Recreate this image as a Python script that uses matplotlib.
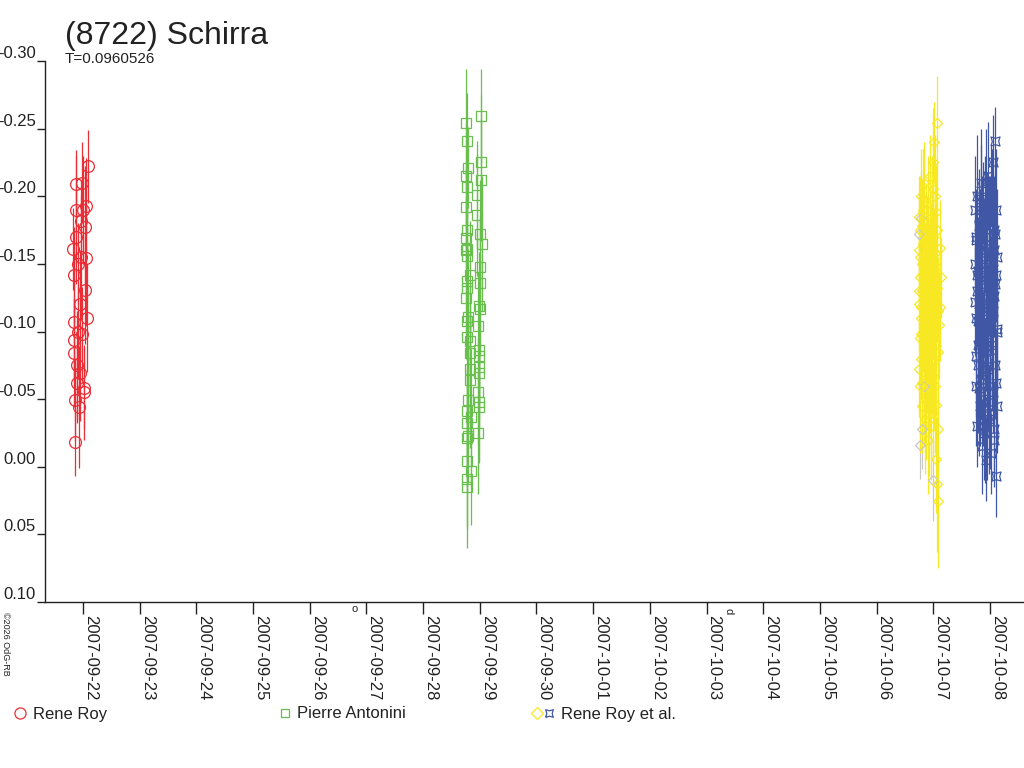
import matplotlib
matplotlib.use("Agg")
import matplotlib.pyplot as plt
import numpy as np

plt.rcParams['font.family'] = ['Liberation Sans', 'DejaVu Sans']

title = "(8722) Schirra"
subtitle = "T=0.0960526"
date_labels = ["2007-09-22", "2007-09-23", "2007-09-24", "2007-09-25", "2007-09-26",
               "2007-09-27", "2007-09-28", "2007-09-29", "2007-09-30", "2007-10-01",
               "2007-10-02", "2007-10-03", "2007-10-04", "2007-10-05", "2007-10-06",
               "2007-10-07", "2007-10-08"]
y_ticks = [-0.30, -0.25, -0.20, -0.15, -0.10, -0.05, 0.00, 0.05, 0.10]
y_tick_labels = ["-0.30", "-0.25", "-0.20", "-0.15", "-0.10", "-0.05", "0.00", "0.05", "0.10"]

# time in days since 2007-09-22 00:00
red_t = [-0.17, -0.165, -0.16, -0.155, -0.15, -0.145, -0.14, -0.13, -0.125, -0.12,
         -0.11, -0.10, -0.09, -0.08, -0.07, -0.06, -0.05, -0.04, -0.03, -0.02,
         -0.01, 0.00, 0.01, 0.02, 0.03, 0.04, 0.05, 0.06, 0.07, 0.08]
red_y = [-0.161, -0.142, -0.084, -0.094, -0.107, -0.049, -0.018, -0.209, -0.190, -0.170,
         -0.062, -0.075, -0.100, -0.150, -0.044, -0.069, -0.120, -0.182, -0.155, -0.098,
         -0.210, -0.190, -0.055, -0.058, -0.177, -0.131, -0.154, -0.193, -0.110, -0.222]
red_err = [0.03, 0.035, 0.04, 0.03, 0.045, 0.03, 0.025, 0.025, 0.04, 0.035,
           0.03, 0.04, 0.035, 0.03, 0.045, 0.035, 0.04, 0.03, 0.045, 0.035,
           0.03, 0.04, 0.035, 0.03, 0.045, 0.04, 0.05, 0.035, 0.04, 0.027]

green_t = [7.020, 6.757, 6.770, 7.022, 6.790, 6.765, 7.022, 6.770, 6.955, 6.755,
           6.955, 6.777, 7.000, 6.755, 7.033, 6.777, 6.767, 7.000, 6.820, 6.777,
           7.000, 6.770, 6.755, 6.990, 7.000, 6.790, 6.767, 6.973, 6.777, 6.820,
           6.990, 6.820, 6.990, 6.990, 6.830, 6.990, 6.830, 6.973, 6.790, 6.990,
           6.990, 6.777, 6.850, 6.777, 6.973, 6.790, 6.777, 6.777, 6.838, 6.777,
           6.777, 6.760]
green_y = [-0.259, -0.254, -0.241, -0.225, -0.221, -0.215, -0.212, -0.207, -0.201, -0.192,
           -0.186, -0.175, -0.172, -0.169, -0.165, -0.161, -0.156, -0.148, -0.142, -0.137,
           -0.136, -0.132, -0.125, -0.119, -0.117, -0.111, -0.108, -0.104, -0.096, -0.093,
           -0.086, -0.084, -0.082, -0.074, -0.072, -0.069, -0.064, -0.055, -0.049, -0.048,
           -0.044, -0.041, -0.037, -0.032, -0.025, -0.023, -0.021, -0.004, 0.003, 0.009,
           0.015, -0.160]
green_err = [0.035, 0.04, 0.035, 0.05, 0.03, 0.04, 0.045, 0.035, 0.04, 0.03,
             0.045, 0.035, 0.04, 0.03, 0.05, 0.04, 0.045, 0.035, 0.04, 0.03,
             0.05, 0.035, 0.045, 0.04, 0.035, 0.05, 0.03, 0.04, 0.045, 0.035,
             0.04, 0.05, 0.035, 0.045, 0.04, 0.035, 0.05, 0.04, 0.035, 0.045,
             0.04, 0.035, 0.05, 0.04, 0.045, 0.035, 0.04, 0.05, 0.04, 0.035,
             0.045, 0.06]

grey_t = [14.77, 14.80, 14.78, 15.00, 14.75, 14.83]
grey_y = [-0.016, -0.028, -0.184, 0.010, -0.172, -0.060]
grey_err = [0.025, 0.03, 0.035, 0.03, 0.03, 0.035]

yellow_t = [14.741, 14.747, 14.752, 14.758, 14.762, 14.768, 14.773, 14.779, 14.784, 14.790,
            14.795, 14.801, 14.806, 14.812, 14.817, 14.823, 14.829, 14.834, 14.840, 14.845,
            14.851, 14.857, 14.862, 14.868, 14.873, 14.879, 14.885, 14.890, 14.896, 14.901,
            14.907, 14.913, 14.918, 14.924, 14.929, 14.935, 14.941, 14.946, 14.952, 14.957,
            14.963, 14.969, 14.974, 14.980, 14.986, 14.991, 14.997, 15.002, 15.008, 15.014,
            15.019, 15.025, 15.031, 15.036, 15.042, 15.048, 15.053, 15.059, 15.065, 15.070,
            15.076, 15.082, 15.090, 15.100,
            14.744, 14.755, 14.765, 14.776, 14.787, 14.798, 14.809, 14.820, 14.831, 14.843,
            14.854, 14.865, 14.876, 14.887, 14.899, 14.910, 14.921, 14.932, 14.944, 14.955,
            14.966, 14.977, 14.988, 15.000, 15.011, 15.022, 15.033, 15.045, 15.056, 15.067,
            15.079, 15.110, 15.125, 15.140]
yellow_y = [-0.185, -0.160, -0.120, -0.095, -0.140, -0.060, -0.175, -0.200, -0.110, -0.080,
            -0.150, -0.130, -0.045, -0.190, -0.100, -0.165, -0.070, -0.125, -0.210, -0.090,
            -0.035, -0.145, -0.115, -0.180, -0.055, -0.135, -0.075, -0.170, -0.105, -0.020,
            -0.195, -0.155, -0.085, -0.050, -0.125, -0.215, -0.100, -0.065, -0.160, -0.140,
            -0.030, -0.110, -0.185, -0.080, -0.225, -0.130, -0.040, -0.170, -0.095, -0.150,
            -0.240, -0.060, -0.120, -0.200, -0.006, -0.145, -0.090, 0.013, -0.175, -0.254,
            -0.115, -0.028, 0.025, -0.105,
            -0.130, -0.072, -0.155, -0.098, -0.118, -0.178, -0.062, -0.142, -0.088, -0.196,
            -0.108, -0.050, -0.166, -0.128, -0.082, -0.148, -0.112, -0.038, -0.172, -0.092,
            -0.138, -0.068, -0.205, -0.122, -0.078, -0.158, -0.102, -0.046, -0.188, -0.132,
            -0.085, -0.162, -0.118, -0.140]
yellow_err = [0.030, 0.040, 0.035, 0.045, 0.030, 0.050, 0.040, 0.035, 0.045, 0.030,
              0.040, 0.050, 0.035, 0.045, 0.030, 0.040, 0.055, 0.035, 0.030, 0.045,
              0.040, 0.035, 0.050, 0.030, 0.045, 0.040, 0.035, 0.030, 0.050, 0.040,
              0.035, 0.045, 0.030, 0.040, 0.055, 0.030, 0.045, 0.040, 0.035, 0.050,
              0.040, 0.030, 0.045, 0.035, 0.040, 0.050, 0.035, 0.030, 0.045, 0.040,
              0.030, 0.050, 0.035, 0.045, 0.040, 0.035, 0.030, 0.050, 0.045, 0.035,
              0.040, 0.030, 0.050, 0.040,
              0.040, 0.035, 0.045, 0.030, 0.040, 0.035, 0.050, 0.030, 0.045, 0.040,
              0.035, 0.045, 0.030, 0.040, 0.050, 0.035, 0.030, 0.045, 0.040, 0.035,
              0.045, 0.030, 0.040, 0.035, 0.050, 0.040, 0.030, 0.045, 0.035, 0.040,
              0.045, 0.035, 0.040, 0.030]

blue_t = [15.735, 15.741, 15.747, 15.753, 15.759, 15.766, 15.772, 15.778, 15.784, 15.791,
          15.797, 15.803, 15.809, 15.816, 15.822, 15.828, 15.834, 15.841, 15.847, 15.853,
          15.859, 15.866, 15.872, 15.878, 15.884, 15.891, 15.897, 15.903, 15.909, 15.916,
          15.922, 15.928, 15.934, 15.941, 15.947, 15.953, 15.959, 15.966, 15.972, 15.978,
          15.984, 15.991, 15.997, 16.003, 16.009, 16.016, 16.022, 16.028, 16.034, 16.041,
          16.047, 16.053, 16.059, 16.066, 16.072, 16.078, 16.084, 16.091, 16.097, 16.103,
          16.109, 16.116, 16.122, 16.130,
          15.738, 15.750, 15.762, 15.775, 15.787, 15.800, 15.812, 15.825, 15.837, 15.850,
          15.862, 15.875, 15.887, 15.900, 15.912, 15.925, 15.937, 15.950, 15.962, 15.975,
          15.987, 16.000, 16.012, 16.025, 16.037, 16.050, 16.062, 16.075, 16.087, 16.100,
          16.112, 16.125]
blue_y = [-0.150, -0.190, -0.110, -0.060, -0.170, -0.130, -0.030, -0.200, -0.090, -0.145,
          -0.075, -0.185, -0.120, -0.045, -0.160, -0.100, -0.210, -0.065, -0.135, -0.015,
          -0.175, -0.115, -0.050, -0.195, -0.085, -0.155, -0.025, -0.125, -0.180, -0.070,
          -0.140, -0.005, -0.205, -0.095, -0.165, -0.040, -0.120, -0.215, -0.080, -0.150,
          -0.035, -0.185, -0.105, -0.060, -0.170, -0.130, -0.010, -0.200, -0.090, -0.145,
          -0.225, -0.055, -0.115, -0.175, -0.020, -0.160, -0.241, -0.075, -0.135, 0.007,
          -0.190, -0.100, -0.045, -0.155,
          -0.122, -0.168, -0.082, -0.142, -0.108, -0.058, -0.178, -0.128, -0.092, -0.198,
          -0.138, -0.068, -0.112, -0.158, -0.038, -0.148, -0.098, -0.188, -0.072, -0.132,
          -0.162, -0.048, -0.118, -0.208, -0.086, -0.152, -0.028, -0.126, -0.172, -0.062,
          -0.142, -0.102]
blue_err = [0.035, 0.040, 0.030, 0.045, 0.035, 0.040, 0.030, 0.045, 0.035, 0.040,
            0.050, 0.035, 0.040, 0.030, 0.045, 0.035, 0.040, 0.030, 0.045, 0.035,
            0.040, 0.050, 0.035, 0.030, 0.045, 0.040, 0.035, 0.030, 0.050, 0.040,
            0.035, 0.030, 0.045, 0.040, 0.035, 0.050, 0.030, 0.040, 0.045, 0.035,
            0.040, 0.030, 0.050, 0.035, 0.045, 0.040, 0.030, 0.035, 0.045, 0.040,
            0.035, 0.030, 0.050, 0.040, 0.035, 0.045, 0.025, 0.040, 0.035, 0.030,
            0.045, 0.040, 0.035, 0.050,
            0.040, 0.035, 0.045, 0.030, 0.040, 0.050, 0.035, 0.030, 0.045, 0.040,
            0.035, 0.045, 0.030, 0.040, 0.050, 0.035, 0.040, 0.030, 0.045, 0.035,
            0.040, 0.050, 0.035, 0.030, 0.045, 0.040, 0.035, 0.030, 0.045, 0.040,
            0.035, 0.045]

series_names = ["Rene Roy", "Pierre Antonini", "Rene Roy et al."]

red = "#ea2e36"
green = "#69bf4e"
yellow = "#f7e823"
blue = "#3f57a5"
grey = "#c8c8c8"
ink = "#222222"

star = [(-1, -1), (0, -0.7), (1, -1), (0.7, 0), (1, 1), (0, 0.7), (-1, 1), (-0.7, 0), (-1, -1)]

fig = plt.figure(figsize=(10.24, 7.68), dpi=100)
ax = fig.add_axes([45 / 1024, 166 / 768, 979 / 1024, 541 / 768])

kw = dict(linestyle='none', capsize=0, elinewidth=0.9, mew=0.9, mfc='none')
ax.errorbar(red_t, red_y, yerr=red_err, marker='o', ms=8.5, color=red, **kw)
ax.errorbar(green_t, green_y, yerr=green_err, marker='s', ms=6.5, color=green, **kw)
ax.errorbar(grey_t, grey_y, yerr=grey_err, marker='D', ms=5.5, color=grey, **kw)
ax.errorbar(yellow_t, yellow_y, yerr=yellow_err, marker='D', ms=5.5, color=yellow, **kw)
ax.errorbar(blue_t, blue_y, yerr=blue_err, marker=star, ms=6.5, color=blue, **kw)

x_pos = np.arange(len(date_labels))
ax.set_xlim(-0.67, 16.6)
ax.set_ylim(0.10, -0.30)
ax.set_yticks(y_ticks)
ax.set_yticklabels(y_tick_labels, fontsize=12, color=ink)
ax.set_xticks(x_pos)
ax.set_xticklabels(date_labels, fontsize=12, color=ink, rotation=270)
for lab in ax.get_yticklabels():
    lab.set_verticalalignment('bottom')
for lab in ax.get_xticklabels():
    lab.set_horizontalalignment('left')
    lab.set_verticalalignment('top')
ax.tick_params(axis='y', direction='out', length=6, width=1, color=ink, pad=0.5)
ax.tick_params(axis='x', direction='out', length=8.6, width=1, color=ink, pad=0.5)
for s in ['top', 'right']:
    ax.spines[s].set_visible(False)
for s in ['left', 'bottom']:
    ax.spines[s].set_color(ink)
    ax.spines[s].set_linewidth(1)

fig.text(65 / 1024, 1 - 44 / 768, title, fontsize=23, color=ink)
fig.text(65 / 1024, 1 - 63 / 768, subtitle, fontsize=11, color=ink)
fig.text(355 / 1024, 1 - 612 / 768, "o", fontsize=8, color=ink, ha='center')
fig.text(728 / 1024, 1 - 612 / 768, "d", fontsize=8, color=ink, ha='center', rotation=270)
fig.text(5 / 1024, 1 - 612 / 768, "\u00a92026 OdG-RB", fontsize=6.5, color=ink,
         rotation=270, ha='center', va='top')

# legend row along the bottom
lg = fig.add_axes([0, 0, 1, 1])
lg.set_xlim(0, 1024)
lg.set_ylim(768, 0)
lg.axis('off')
lg.plot([20], [713], marker='o', ms=8, mfc='none', mec=red, mew=0.9)
lg.plot([285], [713], marker='s', ms=6, mfc='none', mec=green, mew=0.9)
lg.plot([537], [713], marker='D', ms=6, mfc='none', mec=yellow, mew=0.9)
lg.plot([549], [713], marker=star, ms=5.5, mfc='none', mec=blue, mew=0.9)
for xx, name in zip([33, 297, 561], series_names):
    lg.text(xx, 714, name, fontsize=12, color=ink, va='center')

fig.savefig("out.png", dpi=100)
